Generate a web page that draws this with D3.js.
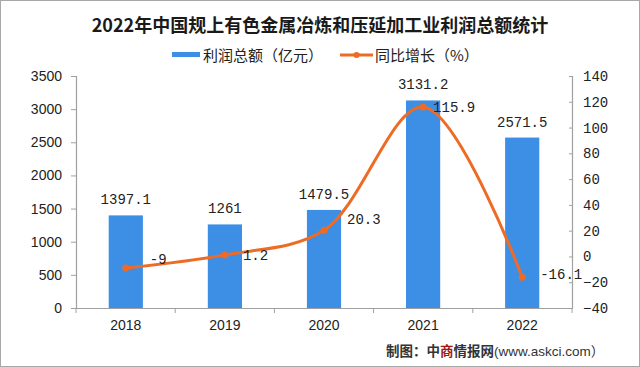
<!DOCTYPE html>
<html><head><meta charset="utf-8">
<script src="https://cdn.jsdelivr.net/npm/d3@7/dist/d3.min.js"></script>
<style>html,body{margin:0;padding:0;background:#fff;}svg{display:block;}</style>
</head><body>
<script>
const categories = ["2018","2019","2020","2021","2022"];
const profit = [1397.1, 1261, 1479.5, 3131.2, 2571.5];
const growth = [-9, 1.2, 20.3, 115.9, -16.1];
const leftTicks = [0,500,1000,1500,2000,2500,3000,3500];
const rightTicks = [-40,-20,0,20,40,60,80,100,120,140];
const profitLabels = ["1397.1","1261","1479.5","3131.2","2571.5"];
const growthLabels = ["-9","1.2","20.3","115.9","-16.1"];
const titleText = "2022年中国规上有色金属冶炼和压延加工业利润总额统计";
const legendBar = "利润总额（亿元）";
const legendLine = "同比增长（%）";

// layout offsets for growth labels (dx, dy from point)
const growthLabelDx = [24, 18, 23, 10, 18];
const growthLabelDy = [-4, 5, -6, 5, 2];

const W = 640, H = 367;
const svg = d3.select("body").append("svg").attr("width", W).attr("height", H);
const CJK = "'Noto Sans CJK SC','Noto Sans',sans-serif";
const MONO = "'Liberation Mono','DejaVu Sans Mono',monospace";
const SANS = "'Liberation Sans',Arial,sans-serif";
const axisColor = "#a0a0a0";
const barColor = "#3d8fe6";
const lineColor = "#ee6b25";

svg.append("rect").attr("x",0.5).attr("y",0.5).attr("width",W-1).attr("height",H-1)
  .attr("fill","#fff").attr("stroke","#a8a8a8");

const x0 = 76, x1 = 572, yTop = 76, yBot = 308;
const x = d3.scaleBand().domain(categories).range([x0, x1]).paddingInner(0.655).paddingOuter(0.33);
const yL = d3.scaleLinear().domain([0, 3500]).range([yBot, yTop]);
const yR = d3.scaleLinear().domain([-40, 140]).range([yBot, yTop]);

// title
svg.append("text").attr("x", 320).attr("y", 32).attr("text-anchor","middle")
  .attr("font-family", CJK).attr("font-weight","bold").attr("font-size", 18).attr("fill","#1a1a1a")
  .text(titleText);

// legend
const lg = svg.append("g");
lg.append("rect").attr("x",172).attr("y",52).attr("width",28).attr("height",5).attr("fill",barColor);
lg.append("text").attr("x",203).attr("y",60.5).attr("font-family",CJK).attr("font-size",15).attr("fill","#222").text(legendBar);
lg.append("line").attr("x1",340).attr("x2",373).attr("y1",55).attr("y2",55).attr("stroke",lineColor).attr("stroke-width",3);
lg.append("circle").attr("cx",356.5).attr("cy",55).attr("r",3).attr("fill",lineColor);
lg.append("text").attr("x",375).attr("y",60.5).attr("font-family",CJK).attr("font-size",15).attr("fill","#222").text(legendLine);

// bars
svg.append("g").selectAll("rect").data(profit).join("rect")
  .attr("x",(d,i)=>x(categories[i])).attr("width",x.bandwidth())
  .attr("y",d=>yL(d)).attr("height",d=>yBot-yL(d)).attr("fill",barColor);

// axes
const gl = svg.append("g").attr("transform",`translate(${x0},0)`)
  .call(d3.axisLeft(yL).tickValues(leftTicks).tickSize(5).tickPadding(9).tickFormat(d3.format("d")));
const gr = svg.append("g").attr("transform",`translate(${x1},0)`)
  .call(d3.axisRight(yR).tickValues(rightTicks).tickSize(-3).tickPadding(11).tickFormat(d3.format("d")));
const gb = svg.append("g").attr("transform",`translate(0,${yBot})`)
  .call(d3.axisBottom(x).tickSize(0).tickPadding(12));
[gl,gr,gb].forEach(g=>{
  g.select(".domain").attr("stroke",axisColor).attr("stroke-width",1.2);
  g.selectAll(".tick line").attr("stroke",axisColor);
  g.selectAll("text").attr("fill","#222").attr("font-size",14);
});
gl.selectAll("text").attr("font-family",SANS);
gr.selectAll("text").attr("font-family",MONO);
gb.selectAll("text").attr("font-family",SANS);
// category separator ticks on x axis
const sep = d3.range(categories.length+1).map(i=> x0 + i*(x1-x0)/categories.length);
svg.append("g").selectAll("line").data(sep).join("line")
  .attr("x1",d=>d).attr("x2",d=>d).attr("y1",yBot).attr("y2",yBot+5).attr("stroke",axisColor);

// bar labels
svg.append("g").selectAll("text").data(profit).join("text")
  .attr("x",(d,i)=>x(categories[i])+x.bandwidth()/2).attr("y",d=>yL(d)-11)
  .attr("text-anchor","middle").attr("font-family",MONO).attr("font-size",14).attr("fill","#222")
  .text((d,i)=>profitLabels[i]);

// line
const cx = i => x(categories[i]) + x.bandwidth()/2;
const line = d3.line().x((d,i)=>cx(i)).y(d=>yR(d)).curve(d3.curveCatmullRom.alpha(0.5));
svg.append("path").datum(growth).attr("d",line).attr("fill","none")
  .attr("stroke",lineColor).attr("stroke-width",3).attr("stroke-linecap","round");
svg.append("g").selectAll("circle").data(growth).join("circle")
  .attr("cx",(d,i)=>cx(i)).attr("cy",d=>yR(d)).attr("r",3.5).attr("fill",lineColor);
svg.append("g").selectAll("text").data(growth).join("text")
  .attr("x",(d,i)=>cx(i)+growthLabelDx[i]).attr("y",(d,i)=>yR(d)+growthLabelDy[i])
  .attr("font-family",MONO).attr("font-size",14).attr("fill","#222")
  .text((d,i)=>growthLabels[i]);

// credit
const cr = svg.append("text").attr("x",386).attr("y",356).attr("font-family",CJK).attr("font-size",13.5).attr("font-weight","bold").attr("fill","#333");
cr.append("tspan").text("制图：中");
cr.append("tspan").attr("fill","#a01818").text("商");
cr.append("tspan").text("情报网");
cr.append("tspan").attr("font-weight","normal").attr("font-family",SANS).text("(www.askci.com");
cr.append("tspan").attr("font-weight","normal").text("）");
</script>
</body></html>
